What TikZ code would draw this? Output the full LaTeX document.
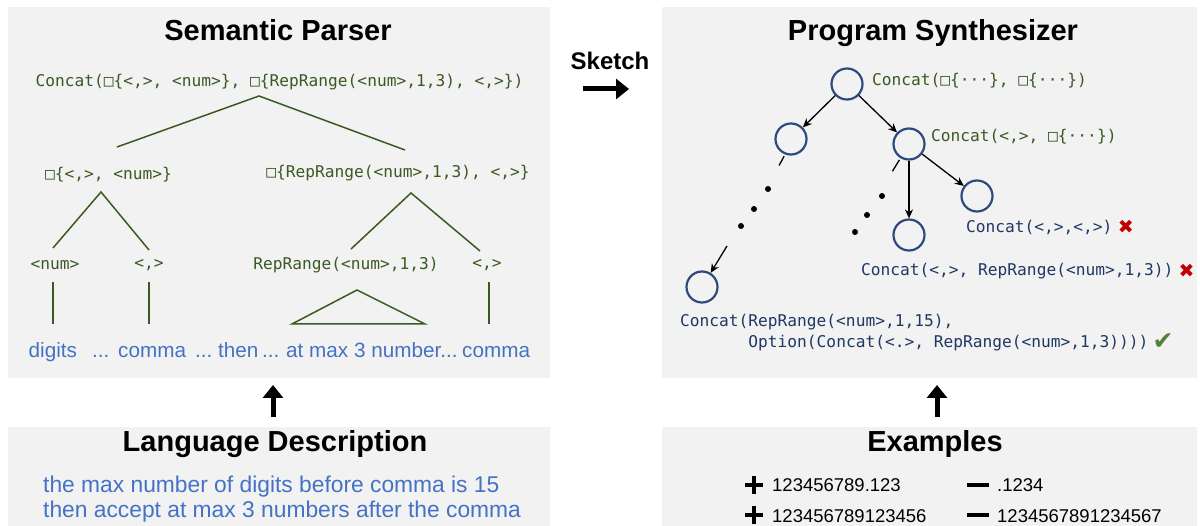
\documentclass[tikz,border=0pt]{standalone}
\usepackage{fontspec}
\setmainfont{Liberation Sans}
\newfontfamily\codefont{DejaVu Sans Mono}
\newfontfamily\markfont{DejaVu Sans}
\usetikzlibrary{arrows.meta,positioning}
\definecolor{panelgray}{HTML}{F2F2F2}
\definecolor{treegreen}{HTML}{3A5A22}
\definecolor{wordblue}{HTML}{4472C4}
\definecolor{navy}{HTML}{1F3864}
\definecolor{ringblue}{HTML}{2E4A7D}
\definecolor{crossred}{HTML}{C00000}
\definecolor{tickgreen}{HTML}{548235}
\tikzset{
  title/.style={font=\fontsize{29}{34}\selectfont\bfseries, inner sep=0pt, anchor=base},
  code/.style={font=\codefont\fontsize{16.2}{21}\selectfont, text=treegreen, inner sep=0pt},
  prog/.style={code, text=navy, anchor=west},
  word/.style={font=\fontsize{20.7}{24}\selectfont, text=wordblue, inner sep=0pt, anchor=base west},
  desc/.style={font=\fontsize{22.8}{26}\selectfont, text=wordblue, inner sep=0pt, anchor=base west},
  sample/.style={font=\fontsize{18.5}{22}\selectfont, inner sep=0pt, anchor=base west},
  treeline/.style={treegreen, line width=1.5pt},
  state/.style={circle, draw=ringblue, line width=2.2pt, minimum size=31pt, inner sep=0pt},
  edge/.style={-{Stealth[length=9pt,width=8pt]}, line width=1.3pt},
  bigarrow/.style={-{Triangle[length=13pt,width=20pt]}, line width=5pt},
  sign/.style={line width=4.5pt},
  cross/.style={font=\markfont\fontsize{19}{19}\selectfont, text=crossred, inner sep=0pt},
}
\begin{document}
\begin{tikzpicture}[x=1pt,y=-1pt]
\useasboundingbox (0,0) rectangle (1200,526);
% panels
\fill[panelgray] (8,7) rectangle (550,378);
\fill[panelgray] (8,427) rectangle (550,526);
\fill[panelgray] (662,7) rectangle (1197,378);
\fill[panelgray] (662,427) rectangle (1197,526);

% semantic parser
\node[title] (sptitle) at (278,41) {Semantic Parser};
\node[code] (sproot) at (279.5,82) {Concat(□\{<,>, <num>\}, □\{RepRange(<num>,1,3), <,>\})};
\node[code] (lsub) at (108.5,175) {□\{<,>, <num>\}};
\node[code] (rsub) at (398,173) {□\{RepRange(<num>,1,3), <,>\}};
\node[code] (lnum) at (55,265) {<num>};
\node[code] (lcomma) at (149,265) {<,>};
\node[code] (rrep) at (346,265) {RepRange(<num>,1,3)};
\node[code] (rcomma) at (487,265) {<,>};
\draw[treeline] (117,147) -- (259,96) -- (405,150);
\draw[treeline] (53,248) -- (101,192) -- (149,250);
\draw[treeline] (351,249) -- (411,193) -- (480,251);
\draw[treeline] (53,282) -- (53,324);
\draw[treeline] (149,282) -- (149,324);
\draw[treeline] (489,282) -- (489,324);
\draw[treeline] (292,324) -- (357,290) -- (425,324) -- cycle;
\node[word] (w1) at (28.5,358) {digits};
\node[word] (w2) at (92,358) {...};
\node[word] (w3) at (118,358) {comma};
\node[word] (w4) at (195,358) {...};
\node[word] (w5) at (218,358) {then};
\node[word] (w6) at (262,358) {...};
\node[word] (w7) at (286,358) {at max 3 number...};
\node[word] (w8) at (462,358) {comma};

% language description
\node[title] (ldtitle) at (275,452) {Language Description};
\node[desc] (d1) at (43,493) {the max number of digits before comma is 15};
\node[desc] (d2) at (43,518) {then accept at max 3 numbers after the comma};
\coordinate (ldup) at (273,417);
\coordinate (spdown) at (273,385);
\draw[bigarrow] (ldup) -- (spdown);

% sketch
\node[title, font=\fontsize{24}{28}\selectfont\bfseries] (sketch) at (610,70) {Sketch};
\coordinate (skfrom) at (583,89);
\coordinate (skto) at (629,89);
\draw[bigarrow] (skfrom) -- (skto);

% program synthesizer
\node[title] (pstitle) at (933,41) {Program Synthesizer};
\node[state] (c0) at (847,84) {};
\node[state] (c1) at (791,139) {};
\node[state] (c2) at (909,144) {};
\node[state] (c3) at (977,196) {};
\node[state] (c4) at (909,235) {};
\node[state] (c5) at (702,287) {};
\draw[edge] (c0) -- (c1);
\draw[edge] (c0) -- (c2);
\draw[edge] (c2) -- (c3);
\draw[edge] (c2) -- (c4);
\coordinate (c5in) at (727,246);
\draw[edge] (c5in) -- (c5);
\draw[line width=1.3pt, shorten <=2pt] (c1.-111) -- ++(-6,11);
\draw[line width=1.3pt, shorten <=2pt] (c2.-121) -- ++(-8,13);
\fill (768,189) circle (3pt) (754,209) circle (3pt) (741,226) circle (3pt);
\fill (882,196) circle (3pt) (867,215) circle (3pt) (855,232) circle (3pt);
\node[code, anchor=west] (l0) at (872,81) {Concat(□\{···\}, □\{···\})};
\node[code, anchor=west] (l2) at (931,137) {Concat(<,>, □\{···\})};
\node[prog] (l3) at (966,227) {Concat(<,>,<,>)};
\node[cross, right=5pt of l3] (x3) {✖};
\node[prog] (l4) at (861,271) {Concat(<,>, RepRange(<num>,1,3))};
\node[cross, right=5pt of l4] (x4) {✖};
\node[prog, align=left] (l5) at (680,332.5) {Concat(RepRange(<num>,1,15),\\\hphantom{Concat(}Option(Concat(<.>, RepRange(<num>,1,3))))};
\node[cross, text=tickgreen, font=\markfont\fontsize{25}{25}\selectfont] (ok) at (1163,342) {✔};

% examples
\node[title] (extitle) at (935,452) {Examples};
\coordinate (exup) at (937,417);
\coordinate (psdown) at (937,385);
\draw[bigarrow] (exup) -- (psdown);
\draw[sign] (745,485) -- (763,485) (754,476) -- (754,494);
\draw[sign] (745,515) -- (763,515) (754,506) -- (754,524);
\draw[sign] (967,485) -- (989,485);
\draw[sign] (967,515) -- (989,515);
\node[sample] (e1) at (772,492) {123456789.123};
\node[sample] (e2) at (772,522) {123456789123456};
\node[sample] (e3) at (997,492) {.1234};
\node[sample] (e4) at (997,522) {1234567891234567};
\end{tikzpicture}
\end{document}
